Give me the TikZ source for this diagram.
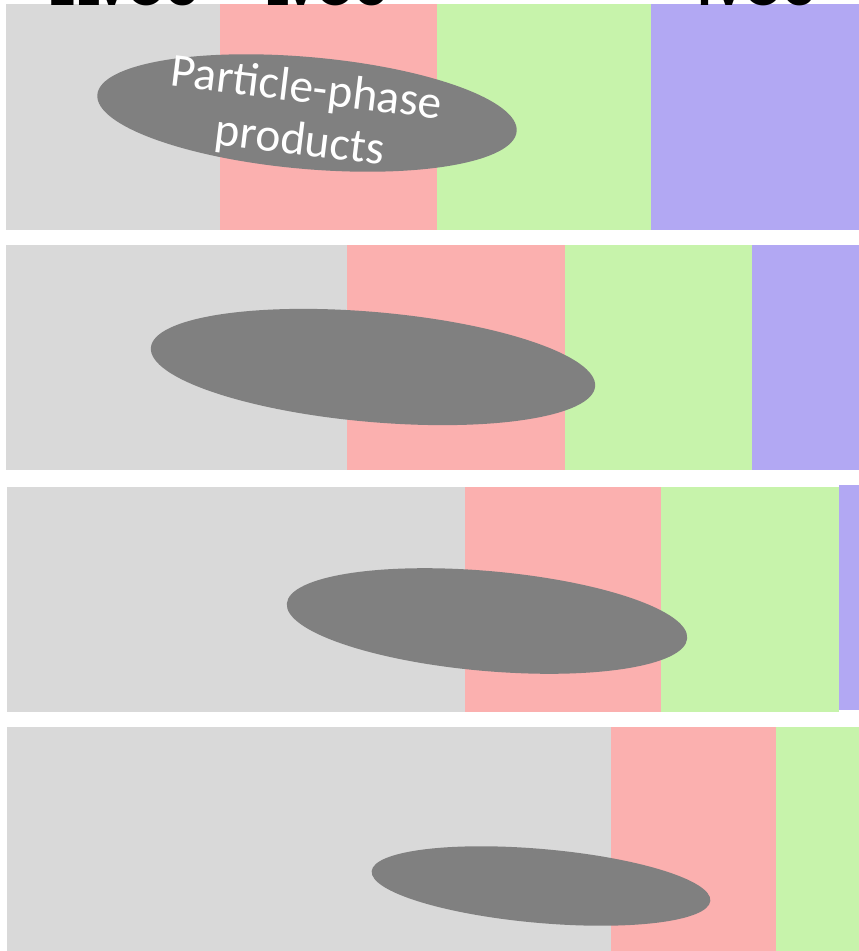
\documentclass[tikz,border=0pt]{standalone}
\usepackage{fontspec}
\setmainfont{Carlito}
\usetikzlibrary{shapes.geometric}
\definecolor{elvoc}{HTML}{D9D9D9}
\definecolor{lvoc}{HTML}{FBB0AF}
\definecolor{svoc}{HTML}{C7F3AB}
\definecolor{ivoc}{HTML}{B2A8F3}
\definecolor{blob}{HTML}{808080}
\begin{document}
\begin{tikzpicture}
		[x=0.02cm, y=-0.02cm,
		 prod/.style={ellipse, fill=blob, inner sep=0pt},
		 bin/.style={anchor=base, font=\bfseries\fontsize{32}{36}\selectfont}]
		\useasboundingbox (0,0) rectangle (859,951);
		
		% first row
		\fill[elvoc] (6,4) rectangle (220,230);
		\fill[lvoc] (220,4) rectangle (437,230);
		\fill[svoc] (437,4) rectangle (651,230);
		\fill[ivoc] (651,4) rectangle (859,230);
		% second row
		\fill[elvoc] (6,245) rectangle (347,470);
		\fill[lvoc] (347,245) rectangle (565,470);
		\fill[svoc] (565,245) rectangle (752,470);
		\fill[ivoc] (752,245) rectangle (859,470);
		% third row
		\fill[elvoc] (7,487) rectangle (465,712);
		\fill[lvoc] (465,487) rectangle (661,712);
		\fill[svoc] (661,487) rectangle (839,712);
		\fill[ivoc] (839,485) rectangle (859,710);
		% fourth row
		\fill[elvoc] (7,727) rectangle (611,951);
		\fill[lvoc] (611,727) rectangle (776,951);
		\fill[svoc] (776,727) rectangle (859,951);
		
		\node[bin] (elv) at (122,5) {ELVOC};
		\node[bin] (lv) at (325,5) {LVOC};
		\node[bin] (iv) at (755,5) {IVOC};
		
		\node[prod, rotate=-5, minimum width=8.42cm, minimum height=2.24cm] (p1) at (307,113) {};
		\node[prod, rotate=-5, minimum width=8.92cm, minimum height=2.2cm] (p2) at (373,367) {};
		\node[prod, rotate=-5, minimum width=8.04cm, minimum height=2.0cm] (p3) at (487,621) {};
		\node[prod, rotate=-5, minimum width=6.8cm, minimum height=1.48cm] (p4) at (541,886) {};
		
		\node[rotate=-7, text=white, align=center, font=\fontsize{27}{30}\selectfont] (lbl) at (303,116) {Particle-phase\\products};
		\end{tikzpicture}
\end{document}
